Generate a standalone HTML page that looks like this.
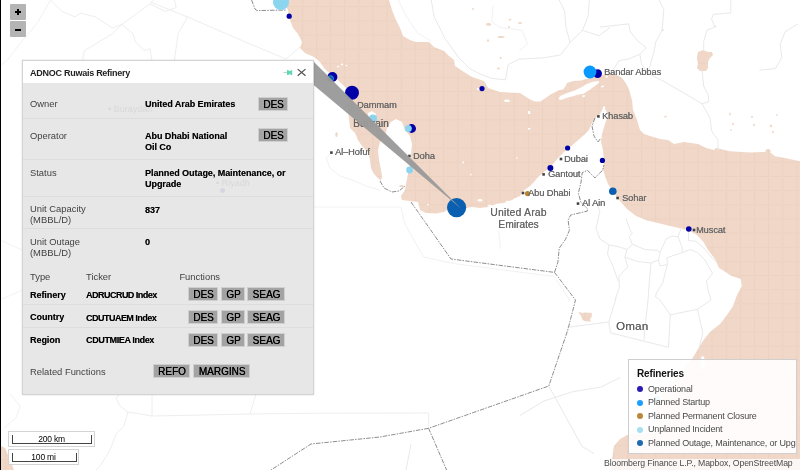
<!DOCTYPE html>
<html>
<head>
<meta charset="utf-8">
<title>Refineries Map</title>
<style>
html,body{margin:0;padding:0;}
body{width:800px;height:470px;overflow:hidden;background:#fff;font-family:"Liberation Sans",sans-serif;position:relative;}
#map{position:absolute;left:0;top:0;width:800px;height:470px;}
.abs{position:absolute;white-space:nowrap;}
#panel,#legend,#attr,.city,.country,.sc{will-change:transform;}
/* map labels */
.city{position:absolute;white-space:nowrap;font-size:9.3px;line-height:10px;color:#666;letter-spacing:-0.12px;text-shadow:0.2px 0 0 #777;margin-left:-0.8px;margin-top:0.6px;}
.country{position:absolute;white-space:nowrap;font-size:11px;line-height:12px;color:#686868;text-align:center;text-shadow:0.3px 0 0 #777;}
/* zoom buttons */
.zb{position:absolute;left:10px;width:16px;height:16px;background:#b4b4b4;border-radius:1px;}
.zb i{position:absolute;background:#000;}
/* panel */
#panel{position:absolute;left:22px;top:60px;width:291.8px;height:335px;background:#e7e7e7;border:1px solid #d4d4d4;box-sizing:border-box;box-shadow:0 0 1.5px rgba(0,0,0,0.18);}
#phead{position:absolute;left:0;top:0;width:289.8px;height:22px;background:#fff;}
.lbl{position:absolute;white-space:nowrap;font-size:9.4px;line-height:11px;color:#424242;left:7px;margin-top:-1.3px;}
.val{position:absolute;white-space:nowrap;font-size:9px;line-height:11px;color:#000;font-weight:bold;left:122px;letter-spacing:-0.05px;text-shadow:0.15px 0 0 rgba(0,0,0,0.55);}
.sep{position:absolute;left:0;width:289.8px;height:1px;background:#dddddd;margin-top:-0.5px;}
.tk{letter-spacing:-0.52px;}
.btn{position:absolute;height:10.9px;padding-top:1.3px;background:#a3a3a3;border:1px solid #cfcfcf;font-size:10px;line-height:12px;overflow:hidden;text-shadow:0.25px 0 0 #000;margin-left:-1px;margin-top:-0.5px;padding-left:1px;color:#000;text-align:center;box-sizing:content-box;}
/* legend */
#legend{position:absolute;left:628px;top:359px;width:168.6px;height:95.2px;background:rgba(255,255,255,0.9);border:1px solid #cfcfcf;box-sizing:border-box;}
.li{position:absolute;left:19px;white-space:nowrap;font-size:9px;line-height:11px;color:#4a4a4a;letter-spacing:-0.175px;}
.ld{position:absolute;left:8px;width:6px;height:6px;border-radius:50%;}
/* scale */
.sc{position:absolute;left:8px;height:16px;background:rgba(255,255,255,0.8);border:1px solid #d4d4d4;box-sizing:border-box;}
.sc b{position:absolute;left:3px;top:2.6px;bottom:2px;border:1px solid #444;border-top:none;box-sizing:border-box;}
.sc span{position:absolute;left:0;right:0;top:2.1px;text-align:center;font-size:8.5px;line-height:11px;color:#000;font-weight:normal;letter-spacing:-0.2px;}
#attr{position:absolute;left:601px;top:459.4px;width:199px;height:10.6px;background:rgba(255,255,255,0.8);font-size:8.7px;line-height:12px;color:#4a4a4a;white-space:nowrap;letter-spacing:-0.12px;}
#attr span{position:absolute;left:3px;top:-1.8px;}
</style>
</head>
<body>
<svg id="map" width="800" height="470" viewBox="0 0 800 470">
  <defs>
    <pattern id="grid" x="5.05" y="6.25" width="14.13" height="14.15" patternUnits="userSpaceOnUse">
      <rect x="0" y="0" width="14.13" height="14.15" fill="#f0d7c7"/>
      <path d="M0.5 0V14.15M0 0.5H14.13" stroke="#e8cdbb" stroke-width="1" stroke-dasharray="1 1" fill="none"/>
    </pattern>
  </defs>
  <rect x="0" y="0" width="800" height="470" fill="#ffffff"/>
  <!-- SEA -->
  <g fill="url(#grid)" stroke="none">
    <!-- Persian Gulf + Gulf of Oman + Arabian Sea -->
    <path id="sea" d="M283 0 L288 10 L290 20 L293 28 L298 34 L302 42 L300 48 L305 53 L314 57 L320 62 L324 68 L328 72 L336 78 L342 84 L348 90 L350 97 L347 104 L349 118 L350 128 L355 133 L358 140 L362 146 L368 152 L370 160 L371 168 L374 174 L379 179 L381 181 L382 176 L381 170 L379 160 L378 150 L380 142 L385 136 L387 128 L391 122 L396 119 L402 122 L405 130 L410 136 L412 144 L411 154 L410 164 L408 174 L406 184 L405 190 L401 196 L402 200 L410 201 L418 202 L420 210 L426 213 L436 213.6 L444 212 L448 209 L456 208 L466 208 L472 207 L480 208 L488 207 L496 204 L504 203 L512 200 L520 196 L523 191 L530 186 L534 182 L538 177 L544 172 L549 168 L554 163 L558 158 L564 152 L570 147 L576 142 L584 135 L589 130 L592 123 L596 117 L600 114 L603 108 L606 110 L608 116 L605 124 L602 134 L601 142 L603 150 L604 160 L603 169 L605 176 L608 184 L612 190 L616 196 L620 201 L627 209 L636 216 L647 220.6 L658 223 L670 226 L681 228.5 L690 231 L697 235 L703.5 242 L708 250 L715 259 L719 268 L724 271 L730.5 275.6 L740.7 279 L741.8 286 L737 295 L733 306 L727 315 L720 324 L710 332 L703.5 340 L698 349 L692 359 L684 368 L674 380 L664 392 L657 400 L657 414 L660 428 L655 433 L640 433 L628.7 434.3 L620 439 L614 446 L612.4 457 L611 470 L800 470 L800 161.3 L785 158 L775 156.3 L771 153 L765 152 L750 152.5 L730 151.3 L716 148 L714 150 L706 148 L698 144 L684 142 L674 144 L668 140 L660 139 L650 136 L644 134 L640 130 L637 120 L633 110 L632 100 L629 89.4 L625.8 83 L622 77.9 L616.8 74.7 L606.6 74 L601.5 75.3 L594 77 L586 79 L581 80.4 L573.4 81 L567 83 L565 87 L563 89.4 L559.4 90 L555.5 92 L550.4 94.5 L545.3 98.3 L540.2 101.5 L535 101.5 L530 99.6 L520 93 L500 92 L488 88 L484 81 L472 77 L464 72 L455 66 L454 60 L449 56 L444 51 L434 47 L429 42 L416 42 L410 40 L403 36 L400 28 L396 20 L392 10 L389 0 Z"/>
    <!-- Red sea corner -->
    <path d="M1 446 L5 448 L8 455 L11 462 L14 470 L1 470 Z"/>
    <!-- lakes -->
    <path d="M698 52 L703 50 L708 52 L712 52 L713 55 L710 58 L708 62 L708 68 L706 71 L700 71 L697 68 L698 64 L697 58 Z"/>
    <path d="M578 311.6 L582 313 L586 312.4 L592 313 L591.6 317 L590 319 L591 321.4 L586 321.6 L582.6 320 L581 316 Z"/>
    <circle cx="768" cy="151.6" r="2.6"/>

    <!-- small lakes / specks -->
    <ellipse cx="488.6" cy="24.4" rx="2.6" ry="1.4"/>
    <ellipse cx="520" cy="23" rx="2" ry="1"/>
    <ellipse cx="510" cy="19.6" rx="1.4" ry="0.9"/>
    <ellipse cx="501" cy="37" rx="3.6" ry="0.9"/>
    <ellipse cx="488" cy="40.6" rx="1" ry="1.4"/>
    <ellipse cx="500.6" cy="58" rx="1" ry="1"/>
    <ellipse cx="498.4" cy="68.4" rx="1.5" ry="0.9"/>
    <ellipse cx="509" cy="27" rx="1" ry="1"/>
    <ellipse cx="473" cy="9" rx="0.9" ry="1.1"/>
    <ellipse cx="665.5" cy="116.6" rx="1.3" ry="0.9"/>
    <ellipse cx="730" cy="114" rx="0.8" ry="1.6"/>
    <ellipse cx="733" cy="124" rx="0.8" ry="1.6"/>
    <ellipse cx="731" cy="130" rx="1" ry="0.8"/>
    <ellipse cx="752" cy="117" rx="1" ry="1"/>
    <ellipse cx="754" cy="125" rx="0.9" ry="1.2"/>
    <ellipse cx="771" cy="126" rx="1.2" ry="1.2"/>
    <ellipse cx="773" cy="132" rx="0.9" ry="1.2"/>
    <ellipse cx="777" cy="115" rx="0.8" ry="1"/>
    <ellipse cx="662.6" cy="30" rx="1" ry="1"/>
    <ellipse cx="715.4" cy="26.4" rx="0.8" ry="0.8"/>
    <ellipse cx="336.5" cy="134.5" rx="1.2" ry="2.6"/>
    <ellipse cx="401.5" cy="186" rx="2.4" ry="0.9"/>
  </g>
  <!-- islands (white) -->
  <g fill="#ffffff">
    <path d="M558.7 98.3 L560.6 95.8 L568.3 92.6 L574.7 90.6 L581 87.5 L586.2 84.3 L592.6 81.7 L599 81 L599 83 L593.9 86.8 L588.7 90.6 L583.6 93.8 L578.5 94.5 L572 96.4 L565.8 98.3 L560 100.2 Z"/>
    <path d="M535 94 L538 93 L540 94.5 L539 96.4 L535.5 96 Z"/>
    <path d="M601 86 L604 85.4 L604 87 L601.4 87.6 Z"/>
    <path d="M582.4 95.6 L585 95 L584.6 97 L582.6 97.2 Z"/>
    <path d="M605.6 75.8 L607.8 75.8 L607.8 77.6 L605.6 77.6 Z"/>
    <path d="M368 113 L372 111 L376 114 L376 121 L372 123 L369 120 Z"/>
    <path d="M701 357 L704 356 L705 364 L703 370 L701 368 Z"/>

    <!-- small islands -->
    <ellipse cx="507" cy="100.8" rx="3" ry="1.3"/>
    <rect x="528" y="111" width="2.2" height="3"/>
    <rect x="528" y="128" width="2.4" height="1.6"/>
    <rect x="462.4" y="161.6" width="1.6" height="1.6"/>
    <rect x="516" y="157.4" width="1.4" height="1.4"/>
    <rect x="470" y="173.8" width="1.6" height="1.4"/>
    <ellipse cx="480" cy="200.2" rx="2.6" ry="1.2"/>
    <rect x="427.4" y="204" width="1.4" height="1.4"/>
    <path d="M496 205.4 L499 203.6 L503 203.8 L504 205 L500 206.6 Z"/>
    <path d="M512 200.4 L515 198 L519 197.4 L519.6 199 L515 201.6 Z"/>
    <path d="M505 201.8 L508 200.6 L510 201.4 L507 202.8 Z"/>
    <path d="M487 205.6 L490 204.6 L492 205.6 L489 206.8 Z"/>
    <ellipse cx="478.5" cy="89" rx="1.8" ry="1.1"/>
    <rect x="341" y="63.6" width="2" height="1.6"/>
    <rect x="337" y="66" width="2.4" height="1.2"/>
    <rect x="345.6" y="65" width="1.6" height="1.2"/>
    <rect x="603" y="106.4" width="2" height="2.4"/>
  </g>

  <g fill="none" stroke="#eeeeee" stroke-width="1">
    <!-- top-left -->
    <path d="M50.6 0 L61.9 11.3 L75 16.9 L80.6 13.1 L95.6 16.9 L112.5 28.1 L121.9 24.4 L150 3.8 L153.8 0"/>
    <path d="M121.9 24.4 L133.1 33.8 L135 41.3 L144.4 50.6 L150 48.8 L151.9 60"/>
    <path d="M121.9 24.4 L112.5 33.8 L93.8 45 L84.4 50.6 L82.5 60"/>
    <path d="M150 3.8 L165 11.3 L176.3 7.5 L174.4 0"/>
    <path d="M150 1.9 L187.5 16.9 L243.8 41.3 L286 59 L300 47"/>
    <path d="M187.5 16.9 L178.1 33.8 L174.4 60"/>
    <!-- bottom-left -->
    <path d="M152 394 L152 416 L250 414 L256 394"/>
    <path d="M250 414 L320 413.2 L428.6 413 L428.6 428"/>
    <path d="M152 416 L128 412 L120 406 L116 398 L120 394"/>
    <path d="M128 412 L124 426 L116 434 L110 450 L100 466 L96 470"/>
  </g>
  <!-- faint province lines -->
  <g fill="none" stroke="#e9e9e9" stroke-width="1">
    <!-- Iran -->
    <path d="M431.3 0 L434 16.5 L445 38.5 L458.8 57.8 L469.8 68.8 L480.8 74.3 L491.8 78.4 L505.5 79.8 L508.3 64.6 L519.3 59.1 L544 57.8 L560.5 55 L570.1 42.6 L566 27.5 L564.6 11 L559.1 0"/>
    <path d="M570.1 42.6 L582.5 30.3 L588 16.5 L589.4 0"/>
    <path d="M582.5 30.3 L599 35.8 L610 27.5"/>
    <path d="M730.8 0 L730.8 12.8 L713.2 14.4 L711.6 19.1 L714.8 27.1 L706.9 30.3 L703.7 41.5 L703.7 51"/>
    <path d="M702 70.2 L703.7 86.1 L708.5 95.7 L708.5 102 L702 103.7 L682.9 92.5 L663.8 81.3 L647.8 73.4 L641.5 63.8 L639.9 54.2"/>
    <path d="M702 103.7 L710 118 L711.6 130.8 L718 140.4 L718 150"/>
    <path d="M639.9 54.2 L646.3 47.8 L638.3 41.5 L630.3 31.9 L628.7 23.9 L600 27.1"/>
    <path d="M639.9 54.2 L628.7 59 L619.1 60.6 L612.8 70.2 L604 71.8"/>
    <path d="M659 0 L663.8 9.6 L662.2 30.3 L655.8 41.5 L654.2 51 L647.8 73.4"/>
    <path d="M797.8 23.9 L785 31.9 L780.2 44.7 L781.8 57.4 L775.4 68.6 L759.5 70.2"/>
    <!-- Oman -->
    <path d="M567.2 327.4 L608.8 322 L616 298.5"/>
    <path d="M608.8 322 L610.6 332.9 L668.5 347.3 L670.3 314.8 L660 300"/>
    <path d="M670.3 314.8 L697.4 309.3 L702.9 332.9 L699.2 347.3"/>
    <path d="M697.4 309.3 L711 300"/>
    <path d="M627 249.5 L624.8 257 L627.8 266.8 L618.8 276.5 L619.5 287 L615 300"/>
    <path d="M627 249.5 L632.3 244.3 L629.3 236.8 L632.3 233 L630 230 L626 218"/>
    <path d="M632.3 244.3 L645 249.5 L657 250.3 L660 252.5 L666 239 L672 236 L678 236.8"/>
    <path d="M627 249.5 L618 246.5 L609 245 L600 239 L596 228 L599.8 211.7 L596.2 200.8"/>
    <path d="M624.8 257 L637.5 261.5 L651 263 L658.5 260 L660 252.5"/>
    <path d="M651 263 L649.5 279.5 L648 300 L646 318 L644 340"/>
    <path d="M658.5 260 L660 266 L667.5 264.5 L666.8 257.8 L682.5 252.5 L681.8 246.5 L678 236.8 L681 229"/>
    <path d="M667.5 264.5 L664.5 275 L663 282.5 L656.3 293 L655.5 296.8 L660 300"/>
    <path d="M682.5 252.5 L690 249.5 L697.5 252.5 L705 260 L712.5 273.5 L706.5 281 L708 290 L711 300"/>
    <path d="M688.5 231 L688.5 240.5 L696 241.3 L705 249.5 L711 257 L717 262.3"/>
    <path d="M609 245 L607.5 254 L613.5 267.5 L618 281"/>
    <path d="M548.8 386 L582 446.4 L594 453.5"/>
    <path d="M520 415.5 L544 401 L572.5 391.8 L601 387 L620 377.5"/>
    <path d="M411 444 L406 470"/>
  </g>
  <g fill="none" stroke="#f2f2f2" stroke-width="1">
    <path d="M50.6 0 L37.5 22.5 L18.8 45 L7.5 60 L0 66"/>
    <path d="M10 394 L20 406 L16 418 L4 428"/>
    <path d="M313 207 L401 207 L404.4 222.8 L420.6 252 L423.9 257 L453.2 263.5 L554 276.5 L570.3 300.9"/>
    <path d="M498.7 231 L500.4 248.8"/>
    <path d="M398.3 0 L406.5 16.5 L417.5 33 L431.3 41.3"/>
    <path d="M493.1 5.5 L491.8 22 L500 27.5 L522 30.3 L527.5 44 L519.3 50.9"/>
    <path d="M332 152 L326 158 L330 168 L340 176 L352 180 L366 186 L380 190"/>
    <path d="M0 240 L22 250"/>
    <path d="M0 300 L22 290"/>
  </g>
  <!-- international borders -->
  <g fill="none" stroke="#8e8e8e" stroke-width="1" stroke-dasharray="4.5 1.2 1.5 1.2">
    <path d="M251.6 0 L255 9 L257 10.6 L286.5 10"/>
    <path d="M380 181 L384 188 L392 192 L399 191 L405 186"/>
    <path d="M411 202 L451 259 L554.5 272.4"/>
    <path d="M554.5 272.4 L557.9 262.2 L559.2 248.2 L565.6 239.2 L569.4 230.3 L568.1 220 L570.7 215 L587.3 211.1 L587.3 208.6 L580.9 202.2 L578.3 193.2 L580.9 183 L582.2 172.8 L587.3 170.2 L592.4 175.3 L595 177.9 L602.6 170.2 L603.9 165.1"/>
    <path d="M554.5 272.4 L575.5 300 L567.8 330 L548.8 386 L428.6 428.3"/>
    <path d="M428.6 428.3 L380 437 L311 444 L271 470"/>
    <path d="M428.6 428.3 L446.6 470"/>
    <path d="M595 118 L592 126 L594 136 L598 142 L601 138"/>
  </g>
  <!-- markers -->
  <g stroke="none">
    <circle cx="281" cy="2" r="8" fill="#8bd5ef"/>
    <circle cx="289.2" cy="16.2" r="2.6" fill="#0000a6"/>
    <circle cx="332.4" cy="77" r="5" fill="#0000a6"/>
    <circle cx="330.6" cy="78.6" r="3" fill="#0b5fb0" stroke="#5aa0d8" stroke-width="0.6"/>
    <circle cx="352" cy="92.8" r="7" fill="#0000a6"/>
    <circle cx="373" cy="118.6" r="4" fill="#8bd5ef"/>
    <circle cx="411.6" cy="128.5" r="4.4" fill="#0000a6"/>
    <circle cx="408.3" cy="128.5" r="3.5" fill="#8bd5ef"/>
    <circle cx="409.6" cy="170" r="3.4" fill="#8bd5ef"/>
    <circle cx="482" cy="88.6" r="2.6" fill="#0000a6"/>
    <circle cx="597.6" cy="73.6" r="4.4" fill="#0000a6"/>
    <circle cx="590" cy="72" r="6.4" fill="#0a9aff"/>
    <circle cx="567.6" cy="148" r="2.6" fill="#0000a6"/>
    <circle cx="550.4" cy="168" r="3" fill="#0000a6"/>
    <circle cx="602.4" cy="160.4" r="2.6" fill="#0000a6"/>
    <circle cx="612.8" cy="191.2" r="3.8" fill="#0b5fb0"/>
    <circle cx="527.6" cy="193.6" r="2.6" fill="#b8832a"/>
    <circle cx="688.8" cy="229" r="2.8" fill="#0000a6"/>
    <circle cx="656.7" cy="399" r="3.4" fill="#8bd5ef"/>
    <circle cx="456.6" cy="207.6" r="9.6" fill="#0b5fb0"/>
  </g>
  <!-- city dots -->
  <g fill="#444">
    <rect x="597.1" y="115.1" width="2.6" height="2.6"/>
    <rect x="559.7" y="157.7" width="2.6" height="2.6"/>
    <rect x="542.3" y="173.1" width="2.6" height="2.6"/>
    <rect x="521.7" y="191.7" width="2.6" height="2.6"/>
    <rect x="576.7" y="202.3" width="2.6" height="2.6"/>
    <rect x="616.3" y="196.7" width="2.6" height="2.6"/>
    <rect x="330.1" y="151.3" width="2.6" height="2.6"/>
    <rect x="408.1" y="154.7" width="2.6" height="2.6"/>
    <rect x="692.7" y="228.7" width="2.6" height="2.6"/>
  </g>
</svg>

<!-- map labels -->
<div class="city" style="left:605px;top:66px;">Bandar Abbas</div>
<div class="city" style="left:603px;top:110px;">Khasab</div>
<div class="city" style="left:565px;top:153px;">Dubai</div>
<div class="city" style="left:548.6px;top:168.4px;">Gantout</div>
<div class="city" style="left:529px;top:187px;">Abu Dhabi</div>
<div class="city" style="left:582.4px;top:197.4px;">Al Ain</div>
<div class="city" style="left:622.4px;top:192px;">Sohar</div>
<div class="city" style="left:697px;top:224px;">Muscat</div>
<div class="city" style="left:357.6px;top:99px;">Dammam</div>
<div class="city" style="left:336px;top:146.4px;">Al&#8211;Hofuf</div>
<div class="city" style="left:414px;top:150.4px;">Doha</div>
<div class="country" style="left:352.8px;top:118.2px;font-size:10.4px;color:#606060;">Bahrain</div>
<div class="country" style="left:488px;top:206.6px;width:61px;font-size:10.2px;"><span style="letter-spacing:0.3px;">United Arab</span><br><span style="letter-spacing:0.02px;">Emirates</span></div>
<div class="country" style="left:616px;top:319.6px;font-size:11.5px;letter-spacing:0.3px;color:#606060;text-shadow:0.25px 0 0 #777;">Oman</div>

<svg class="abs" style="left:0;top:0;" width="800" height="470" viewBox="0 0 800 470"><path d="M313 61 L313 84.5 L461 208.4 Z" fill="#9b9b9b" fill-opacity="0.97"/></svg>
<!-- left black edge -->
<div class="abs" style="left:0;top:0;width:1px;height:470px;background:#000;"></div>

<!-- zoom controls -->
<div class="zb" style="top:4px;"><i style="left:5px;top:7px;width:6px;height:2px;"></i><i style="left:7px;top:5px;width:2px;height:6px;"></i></div>
<div class="zb" style="top:21.2px;"><i style="left:5px;top:7.5px;width:6px;height:2px;"></i></div>

<!-- info panel -->
<div id="panel">
  <div id="phead"></div>
  <div class="abs" id="ptitle" style="left:7px;top:7px;font-size:9px;line-height:11px;font-weight:bold;color:#222;letter-spacing:-0.26px;">ADNOC Ruwais Refinery</div>
  <svg class="abs" style="left:260px;top:8px;" width="11" height="8" viewBox="0 0 11 8"><path d="M0.4 3.6H4" stroke="#bdbdbd" stroke-width="0.8" fill="none"/><path d="M4 1.1 L5.6 1.3 L6 1.9 L7.4 1.9 L7.8 1.3 L9.2 1.3 L9.2 5.9 L7.8 5.9 L7.4 5.3 L6 5.3 L5.6 5.9 L4 6.1 Z" fill="#5ed8b6"/></svg>
  <svg class="abs" style="left:274px;top:7px;" width="10" height="10" viewBox="0 0 10 10"><path d="M0.7 1.1L8.5 7.7M8.5 1.1L0.7 7.7" stroke="#505050" stroke-width="1.2" fill="none"/></svg>

  <div class="abs" style="left:85px;top:43px;font-size:9px;line-height:10px;color:rgba(0,0,0,0.07);">&#8226; Buraydah</div>
  <div class="abs" style="left:193px;top:117px;font-size:9px;line-height:10px;color:rgba(0,0,0,0.07);">&#8226; Riyadh</div>
  <div class="abs" style="left:197px;top:126.5px;width:5px;height:5px;border-radius:50%;background:rgba(0,0,170,0.07);"></div>
  <div class="lbl" style="top:38px;">Owner</div>
  <div class="val" style="top:38px;">United Arab Emirates</div>
  <div class="btn" style="left:236px;top:36px;width:27px;">DES</div>
  <div class="sep" style="top:57px;"></div>

  <div class="lbl" style="top:70px;">Operator</div>
  <div class="val" style="top:70px;">Abu Dhabi National<br>Oil Co</div>
  <div class="btn" style="left:236px;top:67.5px;width:27px;">DES</div>
  <div class="sep" style="top:98px;"></div>

  <div class="lbl" style="top:107px;">Status</div>
  <div class="val" style="top:107px;">Planned Outage, Maintenance, or<br>Upgrade</div>
  <div class="sep" style="top:135.5px;"></div>

  <div class="lbl" style="top:143.5px;">Unit Capacity<br>(MBBL/D)</div>
  <div class="val" style="top:143.5px;">837</div>
  <div class="sep" style="top:167px;"></div>

  <div class="lbl" style="top:176px;">Unit Outage<br>(MBBL/D)</div>
  <div class="val" style="top:176px;">0</div>

  <div class="lbl" style="top:211.5px;">Type</div>
  <div class="lbl" style="top:211.5px;left:63px;">Ticker</div>
  <div class="lbl" style="top:211.5px;left:156.4px;">Functions</div>

  <div class="val" style="top:228.5px;left:7px;">Refinery</div>
  <div class="val tk" style="top:228.5px;left:63px;">ADRUCRUD Index</div>
  <div class="btn" style="left:166px;top:226.5px;width:27px;">DES</div>
  <div class="btn" style="left:199px;top:226.5px;width:21px;">GP</div>
  <div class="btn" style="left:225px;top:226.5px;width:35px;">SEAG</div>
  <div class="sep" style="top:243px;"></div>

  <div class="val" style="top:250.9px;left:7px;">Country</div>
  <div class="val tk" style="top:251.5px;left:63px;">CDUTUAEM Index</div>
  <div class="btn" style="left:166px;top:249.5px;width:27px;">DES</div>
  <div class="btn" style="left:199px;top:249.5px;width:21px;">GP</div>
  <div class="btn" style="left:225px;top:249.5px;width:35px;">SEAG</div>
  <div class="sep" style="top:266.5px;"></div>

  <div class="val" style="top:274px;left:7px;">Region</div>
  <div class="val tk" style="top:274px;left:63px;letter-spacing:-0.37px;">CDUTMIEA Index</div>
  <div class="btn" style="left:166px;top:272.2px;width:27px;">DES</div>
  <div class="btn" style="left:199px;top:272.2px;width:21px;">GP</div>
  <div class="btn" style="left:225px;top:272.2px;width:35px;">SEAG</div>

  <div class="lbl" style="top:306.5px;">Related Functions</div>
  <div class="btn" style="left:131px;top:303.7px;width:34px;">REFO</div>
  <div class="btn" style="left:171px;top:303.7px;width:54px;">MARGINS</div>
</div>

<!-- legend -->
<div id="legend">
  <div class="abs" id="ltitle" style="left:8px;top:8px;font-size:10px;line-height:12px;font-weight:bold;color:#111;letter-spacing:-0.15px;">Refineries</div>
  <div class="ld" style="top:26px;background:#2a1db3;"></div><div class="li" style="top:23.5px;">Operational</div>
  <div class="ld" style="top:39.5px;background:#1e9fff;"></div><div class="li" style="top:37px;">Planned Startup</div>
  <div class="ld" style="top:53px;background:#b8893a;"></div><div class="li" style="top:50.5px;">Planned Permanent Closure</div>
  <div class="ld" style="top:66.5px;background:#a6def2;"></div><div class="li" style="top:64px;">Unplanned Incident</div>
  <div class="ld" style="top:80px;background:#1f69b3;"></div><div class="li" style="top:77.5px;">Planned Outage, Maintenance, or Upg</div>
</div>

<!-- scale bars -->
<div class="sc" style="top:430.6px;width:87px;"><b style="width:80.4px;"></b><span>200 km</span></div>
<div class="sc" style="top:449.4px;width:71px;"><b style="width:65px;"></b><span>100 mi</span></div>

<!-- attribution -->
<div id="attr"><span>Bloomberg Finance L.P., Mapbox, OpenStreetMap</span></div>
</body>
</html>
